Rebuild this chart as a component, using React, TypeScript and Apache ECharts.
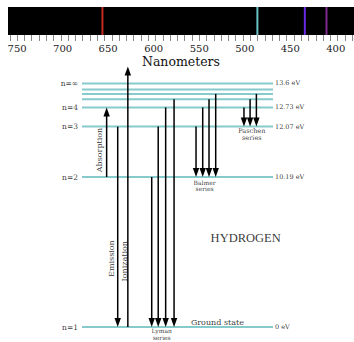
import React, { useEffect, useRef } from 'react';
import * as echarts from 'echarts';

// Spectrum (nm)
const wavelengthLabels = [750, 700, 650, 600, 550, 500, 450, 400];
const spectralLines = [656.3, 486.1, 434.0, 410.2];
const spectralColors = ['#c62a22', '#6cc3c6', '#6a2ae6', '#7c2a8e'];

// Energy levels (schematic heights)
const levelNames = ['n=1', 'n=2', 'n=3', 'n=4', '', '', '', 'n=∞'];
const levelHeights = [0, 50, 66.8, 73.2, 75.9, 77.7, 79.2, 81.2];
const levelEnergies = ['0 eV', '10.19 eV', '12.07 eV', '12.73 eV', '', '', '', '13.6 eV'];

// Transitions: horizontal slot, from level index, to level index
const lymanX = [36.5, 39.9, 43.8, 48.2];
const lymanFrom = [1, 2, 3, 4];
const balmerX = [59.7, 63.2, 66.5, 70.0];
const balmerFrom = [2, 3, 4, 5];
const paschenX = [84.8, 88.0, 91.3];
const paschenFrom = [3, 4, 5];
const absorptionX = 12.9;
const emissionX = 18.7;
const ionizationX = 24.0;
const ionizationTop = 86.8;

// Annotations: text, x, y, fontSize, rotate
const annTexts = ['Absorption', 'Emission', 'Ionization', 'Lyman\nseries', 'Balmer\nseries', 'Paschen\nseries', 'Ground state', 'HYDROGEN'];
const annX = [9.4, 15.5, 22.0, 41.7, 64.2, 88.9, 70.9, 85.7];
const annY = [59, 22.8, 21.9, -2.3, 47.1, 64.2, 1.6, 29.6];
const annSize = [8, 8, 8, 6, 6, 6.5, 8, 12.5];
const annRotate = [90, 90, 90, 0, 0, 0, 0, 0];

const SERIF = 'DejaVu Serif';

export default function App() {
  const ref = useRef<HTMLDivElement>(null);
  useEffect(() => {
    const chart = echarts.init(ref.current!, null, { renderer: 'svg' });
    const tickMarks: number[] = [];
    for (let v = 758; v >= 380; v -= 8) tickMarks.push(v);

    const transitions: number[][] = [];
    lymanX.forEach((x, i) => transitions.push([x, levelHeights[lymanFrom[i]], levelHeights[0]]));
    balmerX.forEach((x, i) => transitions.push([x, levelHeights[balmerFrom[i]], levelHeights[1]]));
    paschenX.forEach((x, i) => transitions.push([x, levelHeights[paschenFrom[i]], levelHeights[2]]));
    transitions.push([absorptionX, levelHeights[1], levelHeights[3]]);
    transitions.push([emissionX, levelHeights[2], levelHeights[0]]);
    transitions.push([ionizationX, levelHeights[0], ionizationTop]);

    const option: any = {
      animation: false,
      backgroundColor: '#fff',
      grid: [
        { left: 8, right: 0, top: 7, height: 28, show: true, backgroundColor: '#000', borderWidth: 0 },
        { left: 82, width: 191, top: 57, height: 270 },
      ],
      xAxis: [
        {
          gridIndex: 0, type: 'value', min: 380, max: 760, inverse: true,
          axisLine: { show: false },
          splitLine: { show: false },
          axisTick: { show: true, customValues: tickMarks, length: 6, lineStyle: { color: '#888', width: 1 } },
          axisLabel: { customValues: wavelengthLabels, fontFamily: SERIF, fontSize: 10, color: '#222', margin: 8 },
          name: 'Nanometers', nameLocation: 'middle', nameGap: 20,
          nameTextStyle: { fontFamily: SERIF, fontSize: 12.5, color: '#111' },
        },
        { gridIndex: 1, type: 'value', min: 0, max: 100, show: false },
      ],
      yAxis: [
        { gridIndex: 0, type: 'value', min: 0, max: 1, show: false },
        { gridIndex: 1, type: 'value', min: 0, max: 90, show: false },
      ],
      series: [
        {
          type: 'custom', xAxisIndex: 0, yAxisIndex: 0, silent: true,
          data: spectralLines.map((w, i) => [w, i]),
          renderItem: (params: any, api: any) => {
            const p = api.coord([api.value(0), 0]);
            const cs = params.coordSys;
            return { type: 'rect', shape: { x: p[0] - 1, y: cs.y, width: 2, height: cs.height },
              style: { fill: spectralColors[params.dataIndex] } };
          },
        },
        {
          type: 'custom', xAxisIndex: 1, yAxisIndex: 1, silent: true,
          data: levelHeights.map((h) => [0, h]),
          renderItem: (params: any, api: any) => {
            const p = api.coord([0, api.value(1)]);
            const cs = params.coordSys;
            return { type: 'line', shape: { x1: cs.x, y1: p[1], x2: cs.x + cs.width, y2: p[1] },
              style: { stroke: '#86cacc', lineWidth: 2 } };
          },
        },
        {
          type: 'custom', xAxisIndex: 1, yAxisIndex: 1, silent: true, clip: false,
          encode: { x: 0, y: [1, 2] },
          data: transitions,
          renderItem: (params: any, api: any) => {
            const x = api.value(0);
            const p0 = api.coord([x, api.value(1)]);
            const p1 = api.coord([x, api.value(2)]);
            const dir = p1[1] > p0[1] ? 1 : -1;
            const hl = 9, hw = 3.2;
            return {
              type: 'group', children: [
                { type: 'line', shape: { x1: p0[0], y1: p0[1], x2: p1[0], y2: p1[1] - dir * hl * 0.6 },
                  style: { stroke: '#000', lineWidth: 1.5 } },
                { type: 'polygon', shape: { points: [[p1[0], p1[1]], [p1[0] - hw, p1[1] - dir * hl], [p1[0] + hw, p1[1] - dir * hl]] },
                  style: { fill: '#000' } },
              ],
            };
          },
        },
        {
          type: 'scatter', xAxisIndex: 1, yAxisIndex: 1, symbolSize: 0, silent: true, clip: false,
          data: levelNames.map((n, i) => ({ value: [0, levelHeights[i]], name: n })).filter((d) => d.name),
          label: { show: true, position: 'left', distance: 4, formatter: '{b}', fontFamily: SERIF, fontSize: 7.5, color: '#000' },
        },
        {
          type: 'scatter', xAxisIndex: 1, yAxisIndex: 1, symbolSize: 0, silent: true, clip: false,
          data: levelEnergies.map((e, i) => ({ value: [100, levelHeights[i]], name: e })).filter((d) => d.name),
          label: { show: true, position: 'right', distance: 2, formatter: '{b}', fontFamily: SERIF, fontSize: 6.5, color: '#000' },
        },
        {
          type: 'scatter', xAxisIndex: 1, yAxisIndex: 1, symbolSize: 0, silent: true, clip: false,
          data: annTexts.map((t, i) => ({
            value: [annX[i], annY[i]], name: t,
            label: {
              fontSize: annSize[i], rotate: annRotate[i],
              lineHeight: annSize[i] * 1.05,
              fontFamily: t === 'HYDROGEN' ? 'Liberation Serif' : SERIF,
            },
          })),
          label: { show: true, position: 'inside', formatter: '{b}', color: '#000', align: 'center', verticalAlign: 'middle' },
        },
      ],
    };
    chart.setOption(option);
    return () => chart.dispose();
  }, []);
  return <div ref={ref} style={{ position: 'fixed', left: 0, top: 0, width: 354, height: 342 }} />;
}
